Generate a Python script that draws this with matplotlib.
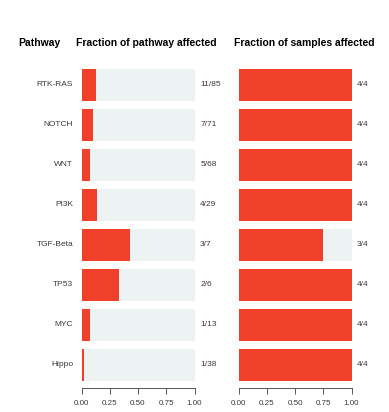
import matplotlib
matplotlib.use("Agg")
import matplotlib.pyplot as plt

plt.rcParams['font.family'] = ['Liberation Sans', 'DejaVu Sans']

pathways = ["RTK-RAS", "NOTCH", "WNT", "PI3K", "TGF-Beta", "TP53", "MYC", "Hippo"]
genes_altered = [11, 7, 5, 4, 3, 2, 1, 1]
genes_total = [85, 71, 68, 29, 7, 6, 13, 38]
samples_altered = [4, 4, 4, 4, 3, 4, 4, 4]
samples_total = [4, 4, 4, 4, 4, 4, 4, 4]
xticks = [0.0, 0.25, 0.5, 0.75, 1.0]
xticklabels = ["0.00", "0.25", "0.50", "0.75", "1.00"]

RED = "#F0402B"
BG = "#EDF2F2"
TXT = "#3A3A3A"

W, H = 389, 412
fig = plt.figure(figsize=(W / 100, H / 100), dpi=100)


def px_axes(x0, x1, y0, y1):
    return fig.add_axes([x0 / W, 1 - y1 / H, (x1 - x0) / W, (y1 - y0) / H])


ax_l = px_axes(81.5, 194.5, 65, 385)
ax_r = px_axes(238.5, 351.5, 65, 385)

ypos = list(range(len(pathways)))


def draw_panel(ax, num, den, label_x):
    frac = [n / d for n, d in zip(num, den)]
    ax.barh(ypos, [1.0] * len(ypos), height=0.8, color=BG, edgecolor="none")
    ax.barh(ypos, frac, height=0.8, color=RED, edgecolor="none")
    for y, n, d in zip(ypos, num, den):
        ax.text(label_x, y, f"{n}/{d}", ha="left", va="center",
                fontsize=6, color=TXT, transform=ax.get_yaxis_transform())
    ax.set_xlim(0, 1)
    ax.set_ylim(len(ypos) - 0.5, -0.5)
    ax.set_yticks([])
    for s in ("top", "right", "left"):
        ax.spines[s].set_visible(False)
    ax.spines["bottom"].set_position(("outward", 2))
    ax.spines["bottom"].set_color("#555555")
    ax.spines["bottom"].set_linewidth(0.7)
    ax.set_xticks(xticks)
    ax.set_xticklabels(xticklabels)
    ax.tick_params(axis="x", direction="out", length=4, width=0.7,
                   color="#555555", labelsize=5.8, labelcolor=TXT, pad=5)


draw_panel(ax_l, genes_altered, genes_total, 1.05)
draw_panel(ax_r, samples_altered, samples_total, 1.05)

for y, name in zip(ypos, pathways):
    ax_l.text(-0.075, y, name, ha="right", va="center", fontsize=6,
              color=TXT, transform=ax_l.get_yaxis_transform())

fig.text(39 / W, 1 - 43 / H, "Pathway", ha="center", va="center",
         fontsize=7.5, fontweight="bold")
fig.text(146.5 / W, 1 - 43 / H, "Fraction of pathway affected", ha="center",
         va="center", fontsize=7.5, fontweight="bold")
fig.text(304.5 / W, 1 - 43 / H, "Fraction of samples affected", ha="center",
         va="center", fontsize=7.5, fontweight="bold")

fig.savefig("out.png", dpi=100)
